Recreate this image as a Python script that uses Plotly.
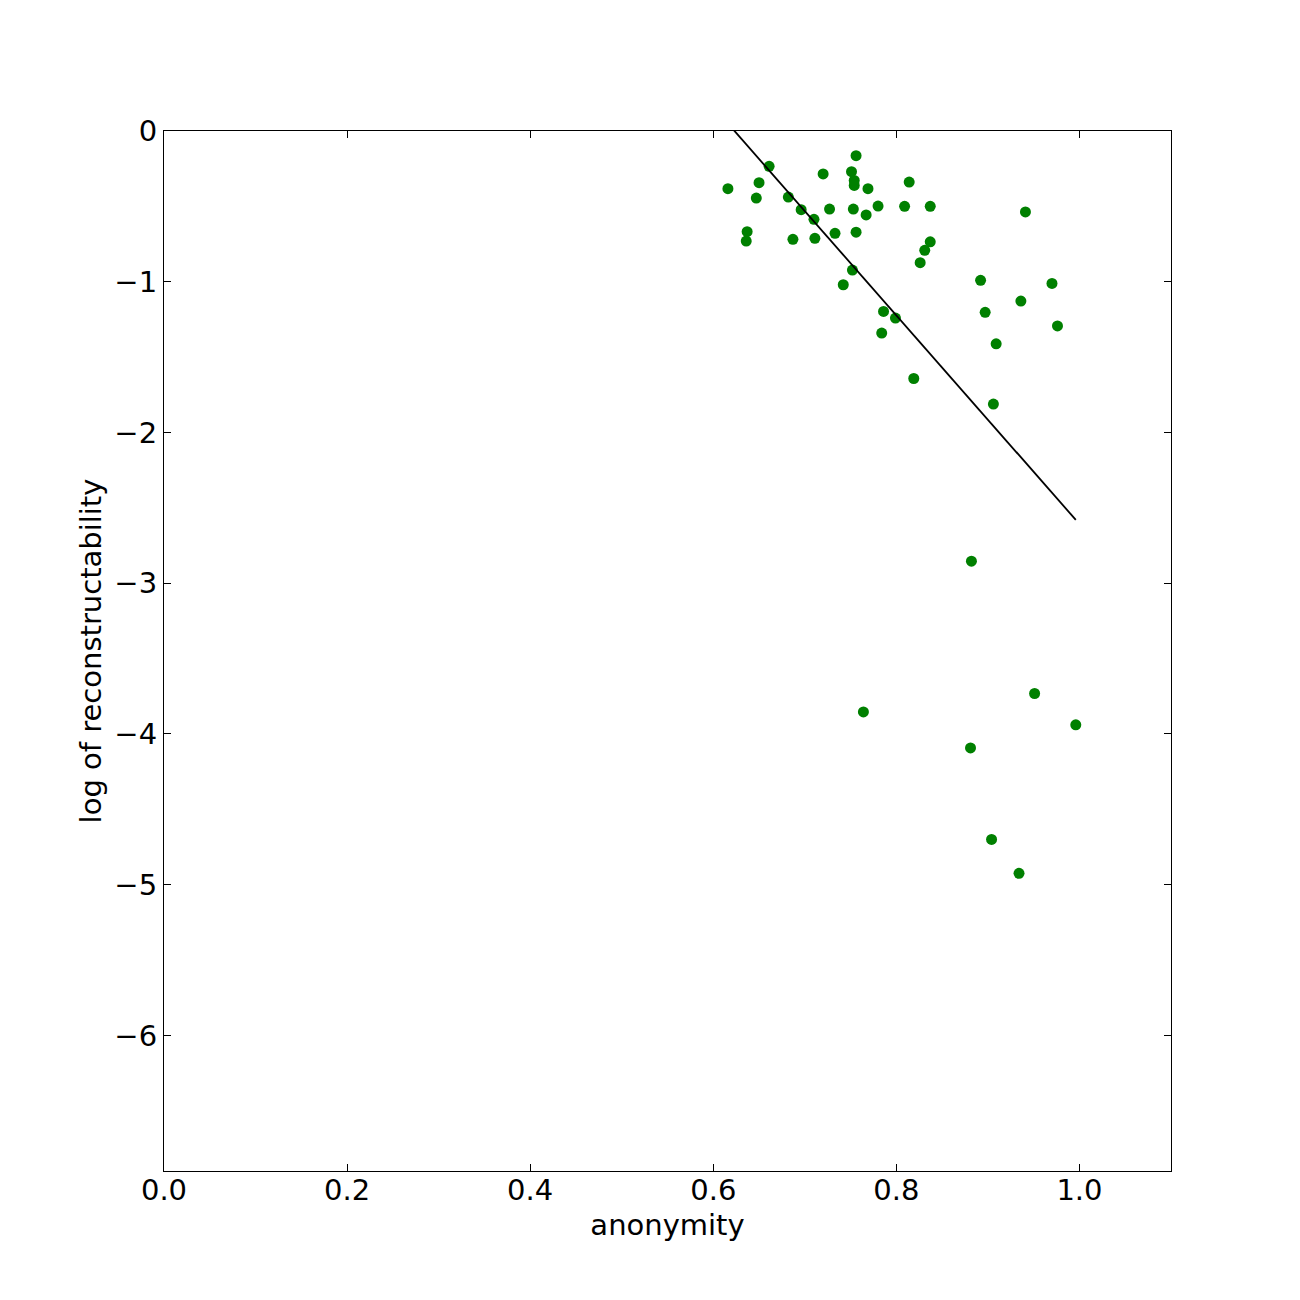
import plotly.graph_objects as go

# anonymity (x) and log of reconstructability (y)
anonymity = [0.616, 0.637, 0.636, 0.650, 0.647, 0.661, 0.682, 0.687, 0.696, 0.710,
             0.711, 0.720, 0.727, 0.733, 0.742, 0.751, 0.754, 0.754, 0.753, 0.752,
             0.756, 0.756, 0.769, 0.767, 0.764, 0.780, 0.786, 0.784, 0.799, 0.809,
             0.814, 0.819, 0.826, 0.831, 0.837, 0.837, 0.882, 0.881, 0.892, 0.897,
             0.904, 0.906, 0.909, 0.934, 0.936, 0.941, 0.951, 0.970, 0.976, 0.996]
log_recon = [-0.383, -0.668, -0.730, -0.343, -0.445, -0.234, -0.438, -0.719, -0.522, -0.586,
             -0.712, -0.285, -0.518, -0.679, -1.020, -0.270, -0.328, -0.361, -0.518, -0.923,
             -0.164, -0.671, -0.383, -0.557, -3.854, -0.498, -1.197, -1.341, -1.241, -0.500,
             -0.339, -1.642, -0.874, -0.792, -0.500, -0.735, -2.854, -4.093, -0.991, -1.203,
             -4.700, -1.812, -1.412, -4.925, -1.128, -0.537, -3.732, -1.011, -1.293, -3.940]

# fitted line endpoints
fit_x = [0.616, 0.996]
fit_y = [0.05, -2.58]

x_ticks = [0.0, 0.2, 0.4, 0.6, 0.8, 1.0]
y_ticks = [0, -1, -2, -3, -4, -5, -6]

fig = go.Figure()
fig.add_trace(go.Scatter(x=anonymity, y=log_recon, mode="markers",
                         marker=dict(color="#008000", size=11, line=dict(width=0)),
                         showlegend=False))
fig.add_trace(go.Scatter(x=fit_x, y=fit_y, mode="lines",
                         line=dict(color="black", width=1.8), showlegend=False))

font = "DejaVu Sans, sans-serif"
fig.update_layout(
    width=1300, height=1300,
    margin=dict(l=156, r=137, t=123, b=137),
    paper_bgcolor="white", plot_bgcolor="white",
    font=dict(family=font, size=29, color="black"),
)
axis_common = dict(showgrid=False, zeroline=False, showline=True, linecolor="black",
                   linewidth=1.2, mirror="ticks", ticks="inside", ticklen=7,
                   tickwidth=1, tickcolor="black",
                   tickfont=dict(family=font, size=29, color="black"))
fig.update_xaxes(range=[0, 1.1], tickvals=x_ticks, tickformat=".1f", ticklabelstandoff=-7,
                 title=dict(text="anonymity", font=dict(family=font, size=29), standoff=8),
                 **axis_common)
fig.update_yaxes(range=[-6.9, 0], tickvals=y_ticks,
                 title=dict(text="log of reconstructability", font=dict(family=font, size=29), standoff=4),
                 **axis_common)

fig.write_html("out.html")
